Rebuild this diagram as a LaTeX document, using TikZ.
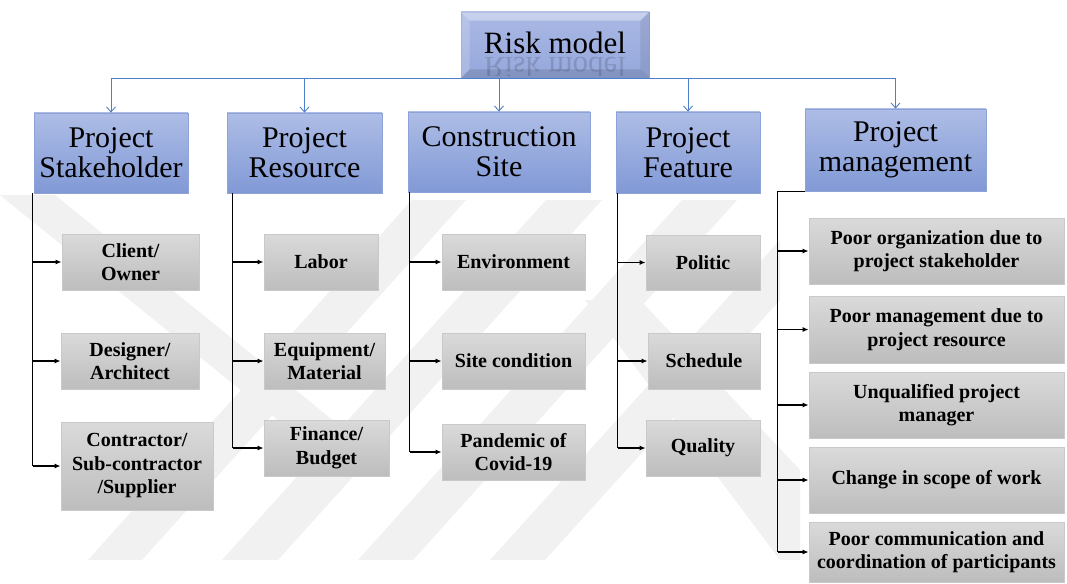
\documentclass[tikz,border=0pt]{standalone}
\usepackage{fontspec}
\setmainfont{Liberation Serif}
\usetikzlibrary{arrows.meta}

\definecolor{wm}{HTML}{F1F1F1}
\definecolor{cattop}{HTML}{AEBDE6}
\definecolor{catbot}{HTML}{8199D6}
\definecolor{catline}{HTML}{8DA2D6}
\definecolor{subtop}{HTML}{DADADA}
\definecolor{subbot}{HTML}{BDBDBD}
\definecolor{subline}{HTML}{C9C9C9}
\definecolor{linkblue}{HTML}{4F7FCB}
\definecolor{facetop}{HTML}{AAB8E4}
\definecolor{facebot}{HTML}{95A8DC}

\tikzset{
  cat/.style={draw=catline, line width=0.8pt, top color=cattop, bottom color=catbot,
    inner sep=0pt, align=center, font=\fontsize{30}{30}\selectfont},
  sub/.style={draw=subline, line width=0.8pt, top color=subtop, bottom color=subbot,
    inner sep=0pt, align=center, font=\bfseries\fontsize{20}{23.5}\selectfont},
  trunk/.style={draw=black, line width=1.4pt},
  twig/.style={draw=black, line width=1.2pt, -{Latex[length=6pt,width=5pt]}},
  feed/.style={draw=linkblue, line width=0.9pt},
  feedarrow/.style={draw=linkblue, line width=0.9pt, -{Straight Barb[length=5pt,width=9pt]}},
}

\begin{document}
\begin{tikzpicture}[x=1pt,y=-1pt]
\useasboundingbox (0,0) rectangle (1067,583);
\fill[white] (0,0) rectangle (1067,583);

% background watermark stripes
\begin{scope}[wm]
  \fill (0,195) -- (55,195) -- (345,430) -- (290,430) -- cycle;
  \fill (88,560) -- (142,560) -- (466,200) -- (412,200) -- cycle;
  \fill (222,560) -- (278,560) -- (602,200) -- (546,200) -- cycle;
  \fill (358,560) -- (413,560) -- (737,200) -- (682,200) -- cycle;
  \fill (490,560) -- (545,560) -- (780,300) -- (780,240) -- cycle;
  \fill (585,300) -- (640,300) -- (800,470) -- (800,560) -- (780,560) -- cycle;
\end{scope}

% root box with bevel
\node[draw=catline, line width=0.6pt, top color=facetop, bottom color=facebot,
      minimum width=188pt, minimum height=66pt, inner sep=0pt] (risk) at (555,45) {};
\fill[white, opacity=0.35] (risk.north west) -- (risk.north east)
      -- ([xshift=-9pt,yshift=-9pt]risk.north east) -- ([xshift=9pt,yshift=-9pt]risk.north west) -- cycle;
\fill[white, opacity=0.18] (risk.north west) -- ([xshift=9pt,yshift=-9pt]risk.north west)
      -- ([xshift=9pt,yshift=9pt]risk.south west) -- (risk.south west) -- cycle;
\fill[black, opacity=0.08] (risk.north east) -- ([xshift=-9pt,yshift=-9pt]risk.north east)
      -- ([xshift=-9pt,yshift=9pt]risk.south east) -- (risk.south east) -- cycle;
\fill[black, opacity=0.12] (risk.south west) -- ([xshift=9pt,yshift=9pt]risk.south west)
      -- ([xshift=-9pt,yshift=9pt]risk.south east) -- (risk.south east) -- cycle;
\node[anchor=base, inner sep=0pt, font=\fontsize{31}{31}\selectfont] (risktext) at (555,54) {Risk model};
\begin{scope}
  \clip ([xshift=9pt,yshift=-9pt]risk.north west) rectangle ([xshift=-9pt,yshift=3pt]risk.south east);
  \node[anchor=base, inner sep=0pt, yscale=-1, transform shape, opacity=0.14,
        font=\fontsize{31}{31}\selectfont] (riskmirror) at (555,58) {Risk model};
\end{scope}

% categories
\node[cat, minimum width=154pt, minimum height=80pt] (sh) at (111,153) {Project\\Stakeholder};
\node[cat, minimum width=155pt, minimum height=80pt] (pr) at (304.5,153) {Project\\Resource};
\node[cat, minimum width=182pt, minimum height=80pt] (cs) at (499,152) {Construction\\Site};
\node[cat, minimum width=144pt, minimum height=81pt] (pf) at (688,152.5) {Project\\Feature};
\node[cat, minimum width=181pt, minimum height=82pt] (pm) at (895.5,150) {Project\\management};

% stakeholder items
\node[sub, minimum width=137pt, minimum height=56pt] (c1) at (130.5,262) {Client/\\Owner};
\node[sub, minimum width=138pt, minimum height=56pt] (c2) at (130,361) {Designer/\\Architect};
\node[sub, minimum width=152pt, minimum height=88pt] (c3) at (137,466) {Contractor/\\Sub-contractor\\/Supplier};
% resource items
\node[sub, minimum width=114pt, minimum height=56pt] (r1) at (321,262) {Labor};
\node[sub, minimum width=121pt, minimum height=56pt] (r2) at (324.5,361) {Equipment/\\Material};
\node[sub, minimum width=125pt, minimum height=56pt] (r3) at (326.5,448) {Finance/\\Budget};
% site items
\node[sub, minimum width=143pt, minimum height=56pt] (e1) at (513.5,262) {Environment};
\node[sub, minimum width=143pt, minimum height=56pt] (e2) at (513.5,361) {Site condition};
\node[sub, minimum width=143pt, minimum height=56pt] (e3) at (513.5,452) {Pandemic of\\Covid-19};
% feature items
\node[sub, minimum width=114pt, minimum height=55pt] (f1) at (703,262.5) {Politic};
\node[sub, minimum width=112pt, minimum height=56pt] (f2) at (704,361) {Schedule};
\node[sub, minimum width=114pt, minimum height=56pt] (f3) at (703,448) {Quality};
% management items
\node[sub, minimum width=255pt, minimum height=66pt] (m1) at (936.5,251) {Poor organization due to\\project stakeholder};
\node[sub, minimum width=255pt, minimum height=67pt] (m2) at (936.5,329.5) {Poor management due to\\project resource};
\node[sub, minimum width=255pt, minimum height=66pt] (m3) at (936.5,405) {Unqualified project\\manager};
\node[sub, minimum width=255pt, minimum height=66pt] (m4) at (936.5,480) {Change in scope of work};
\node[sub, minimum width=255pt, minimum height=60pt] (m5) at (936.5,552) {Poor communication and\\coordination of participants};

% root to categories
\draw[feed] (sh.north |- risk.south) -- (pm.north |- risk.south);
\foreach \c in {sh,pr,cs,pf,pm}
  \draw[feedarrow] (\c.north |- risk.south) -- (\c.north);

% category trunks and branches
\draw[trunk] ([xshift=-1pt]sh.south west) -- ([xshift=-1pt]sh.south west |- c3.west);
\foreach \i in {c1,c2,c3}
  \draw[twig] ([xshift=-1pt]sh.south west |- \i.west) -- (\i.west);

\draw[trunk] ([xshift=6pt]pr.south west) -- ([xshift=6pt]pr.south west |- r3.west);
\foreach \i in {r1,r2,r3}
  \draw[twig] ([xshift=6pt]pr.south west |- \i.west) -- (\i.west);

\draw[trunk] ([xshift=2pt]cs.south west) -- ([xshift=2pt]cs.south west |- e3.west);
\foreach \i in {e1,e2,e3}
  \draw[twig] ([xshift=2pt]cs.south west |- \i.west) -- (\i.west);

\draw[trunk] ([xshift=2pt]pf.south west) -- ([xshift=2pt]pf.south west |- f3.west);
\foreach \i in {f1,f2,f3}
  \draw[twig] ([xshift=2pt]pf.south west |- \i.west) -- (\i.west);

\coordinate (pmt) at ([xshift=-27pt]pm.south west);
\draw[trunk] (pm.south west) -- (pmt) -- (pmt |- m5.west);
\foreach \i in {m1,m2,m3,m4,m5}
  \draw[twig] (pmt |- \i.west) -- (\i.west);
\end{tikzpicture}
\end{document}
